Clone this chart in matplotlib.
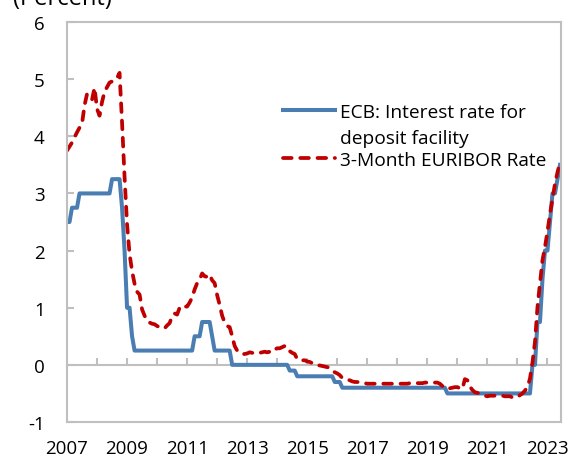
import numpy as np
import matplotlib.pyplot as plt
from matplotlib.lines import Line2D

plt.rcParams['font.family'] = ['Open Sans', 'DejaVu Sans']
plt.rcParams['axes.unicode_minus'] = False

# monthly values, Jan 2007 - Jun 2023
ecb_rate = [
    2.50, 2.50, 2.75, 2.75, 2.75, 3.00, 3.00, 3.00, 3.00, 3.00, 3.00, 3.00,  # 2007
    3.00, 3.00, 3.00, 3.00, 3.00, 3.00, 3.25, 3.25, 3.25, 3.25, 2.75, 2.00,  # 2008
    1.00, 1.00, 0.50, 0.25, 0.25, 0.25, 0.25, 0.25, 0.25, 0.25, 0.25, 0.25,  # 2009
    0.25, 0.25, 0.25, 0.25, 0.25, 0.25, 0.25, 0.25, 0.25, 0.25, 0.25, 0.25,  # 2010
    0.25, 0.25, 0.25, 0.50, 0.50, 0.50, 0.75, 0.75, 0.75, 0.75, 0.50, 0.25,  # 2011
    0.25, 0.25, 0.25, 0.25, 0.25, 0.25, 0.00, 0.00, 0.00, 0.00, 0.00, 0.00,  # 2012
    0.00, 0.00, 0.00, 0.00, 0.00, 0.00, 0.00, 0.00, 0.00, 0.00, 0.00, 0.00,  # 2013
    0.00, 0.00, 0.00, 0.00, 0.00, -0.10, -0.10, -0.10, -0.20, -0.20, -0.20, -0.20,  # 2014
    -0.20, -0.20, -0.20, -0.20, -0.20, -0.20, -0.20, -0.20, -0.20, -0.20, -0.20, -0.30,  # 2015
    -0.30, -0.30, -0.40, -0.40, -0.40, -0.40, -0.40, -0.40, -0.40, -0.40, -0.40, -0.40,  # 2016
    -0.40, -0.40, -0.40, -0.40, -0.40, -0.40, -0.40, -0.40, -0.40, -0.40, -0.40, -0.40,  # 2017
    -0.40, -0.40, -0.40, -0.40, -0.40, -0.40, -0.40, -0.40, -0.40, -0.40, -0.40, -0.40,  # 2018
    -0.40, -0.40, -0.40, -0.40, -0.40, -0.40, -0.40, -0.40, -0.50, -0.50, -0.50, -0.50,  # 2019
    -0.50, -0.50, -0.50, -0.50, -0.50, -0.50, -0.50, -0.50, -0.50, -0.50, -0.50, -0.50,  # 2020
    -0.50, -0.50, -0.50, -0.50, -0.50, -0.50, -0.50, -0.50, -0.50, -0.50, -0.50, -0.50,  # 2021
    -0.50, -0.50, -0.50, -0.50, -0.50, -0.50, 0.00, 0.00, 0.75, 0.75, 1.50, 2.00,  # 2022
    2.00, 2.50, 3.00, 3.00, 3.25, 3.50,  # 2023
]

euribor_3m = [
    3.75, 3.82, 3.89, 3.98, 4.07, 4.15, 4.22, 4.54, 4.74, 4.69, 4.64, 4.85,  # 2007
    4.48, 4.36, 4.60, 4.78, 4.86, 4.94, 4.96, 4.97, 5.02, 5.11, 4.24, 3.29,  # 2008
    2.46, 1.94, 1.64, 1.42, 1.28, 1.23, 0.97, 0.86, 0.77, 0.74, 0.72, 0.71,  # 2009
    0.68, 0.66, 0.64, 0.64, 0.69, 0.73, 0.85, 0.90, 0.88, 1.00, 1.04, 1.02,  # 2010
    1.02, 1.09, 1.18, 1.32, 1.43, 1.49, 1.60, 1.55, 1.54, 1.58, 1.48, 1.43,  # 2011
    1.22, 1.05, 0.86, 0.74, 0.68, 0.66, 0.50, 0.33, 0.25, 0.21, 0.19, 0.19,  # 2012
    0.20, 0.22, 0.21, 0.21, 0.20, 0.21, 0.22, 0.23, 0.22, 0.23, 0.22, 0.27,  # 2013
    0.29, 0.29, 0.31, 0.33, 0.32, 0.24, 0.21, 0.19, 0.10, 0.08, 0.08, 0.08,  # 2014
    0.06, 0.05, 0.03, 0.00, -0.01, -0.01, -0.02, -0.03, -0.04, -0.05, -0.09, -0.13,  # 2015
    -0.15, -0.18, -0.23, -0.25, -0.26, -0.27, -0.29, -0.30, -0.30, -0.31, -0.31, -0.32,  # 2016
    -0.33, -0.33, -0.33, -0.33, -0.33, -0.33, -0.33, -0.33, -0.33, -0.33, -0.33, -0.33,  # 2017
    -0.33, -0.33, -0.33, -0.33, -0.33, -0.32, -0.32, -0.32, -0.32, -0.32, -0.32, -0.31,  # 2018
    -0.31, -0.31, -0.31, -0.31, -0.31, -0.33, -0.37, -0.41, -0.42, -0.41, -0.40, -0.39,  # 2019
    -0.39, -0.41, -0.42, -0.25, -0.27, -0.38, -0.44, -0.48, -0.49, -0.51, -0.52, -0.54,  # 2020
    -0.55, -0.54, -0.54, -0.54, -0.54, -0.54, -0.54, -0.55, -0.55, -0.55, -0.57, -0.58,  # 2021
    -0.56, -0.53, -0.50, -0.45, -0.39, -0.24, 0.04, 0.40, 1.01, 1.43, 1.83, 2.06,  # 2022
    2.34, 2.64, 2.91, 3.17, 3.37, 3.54,  # 2023
]

year_labels = ['2007', '2009', '2011', '2013', '2015', '2017', '2019', '2021', '2023']
y_ticks = [-1, 0, 1, 2, 3, 4, 5, 6]

months = np.arange(len(ecb_rate))
grey = '#bfbfbf'
blue = '#4a7eb3'
red = '#c00000'
dash = (0, (2.3, 2.3))

fig = plt.figure(figsize=(5.71, 4.6), dpi=100)
ax = fig.add_axes([67 / 571, 1 - 423 / 460, (561 - 67) / 571, (423 - 23) / 460])

ax.plot(months, ecb_rate, color=blue, lw=2.9, solid_joinstyle='round')
ax.plot(months, euribor_3m, color=red, lw=2.7, linestyle=dash, dash_capstyle='round')

ax.set_xlim(0, 197.4)
ax.set_ylim(-1, 6)
ax.set_yticks(y_ticks)
ax.set_xticks(np.arange(0, 193, 24))
ax.set_xticklabels(year_labels)
ax.tick_params(axis='x', length=0, pad=12.5, labelsize=13.5)
ax.tick_params(axis='y', direction='in', length=5, width=1.5, color=grey,
               pad=16, labelsize=13.5)
for s in ax.spines.values():
    s.set_color(grey)
    s.set_linewidth(1.5)

# zero line with yearly tick marks
zero = ax.secondary_xaxis(1 / 7)
zero.set_xticks(np.arange(12, 193, 12))
zero.tick_params(direction='in', length=5, width=1.5, color=grey, labelbottom=False)
zero.spines['bottom'].set_color(grey)
zero.spines['bottom'].set_linewidth(1.5)

# legend: ECB entry on two lines, EURIBOR entry just below
fig.legend([Line2D([], [], color=blue, lw=2.9), Line2D([], [], color='none')],
           ['ECB: Interest rate for', 'deposit facility'],
           loc='upper left', bbox_to_anchor=(283 / 571, 1 - 104 / 460),
           frameon=False, fontsize=13.8, handlelength=2.7, handletextpad=0.3,
           labelspacing=0.42, borderpad=0, borderaxespad=0)
fig.legend([Line2D([], [], color=red, lw=2.7, linestyle=dash, dash_capstyle='round')],
           ['3-Month EURIBOR Rate'],
           loc='upper left', bbox_to_anchor=(283 / 571, 1 - 152 / 460),
           frameon=False, fontsize=13.8, handlelength=2.7, handletextpad=0.3,
           borderpad=0, borderaxespad=0)

fig.text(13 / 571, 1 - 5 / 460, '(Percent)', fontsize=17, va='baseline', ha='left')

fig.savefig('out.png', dpi=100)
